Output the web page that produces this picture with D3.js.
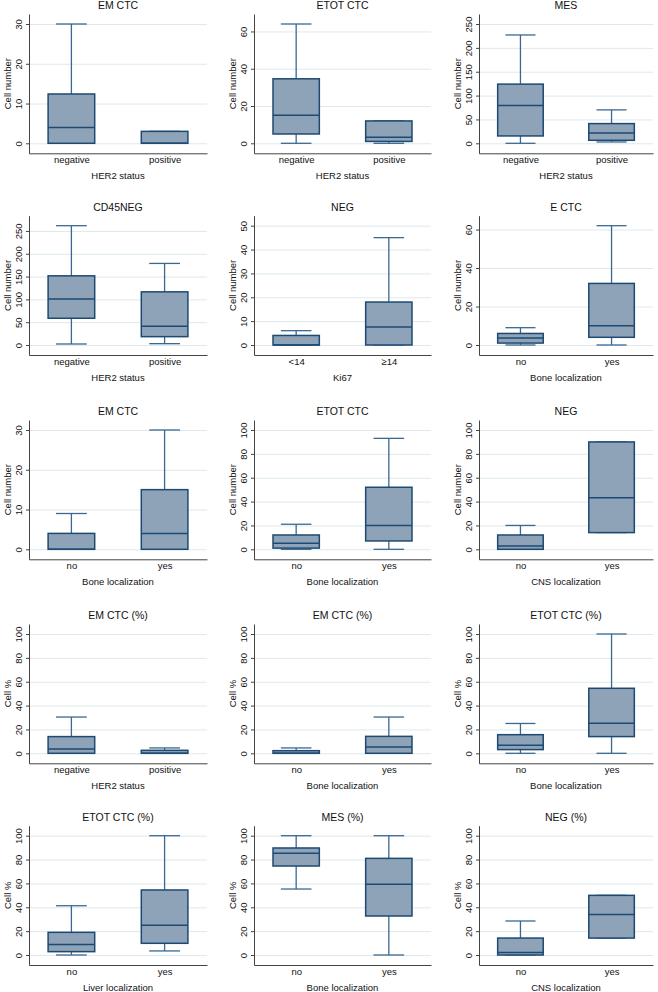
<!DOCTYPE html>
<html>
<head>
<meta charset="utf-8">
<script src="https://cdn.jsdelivr.net/npm/d3@7"></script>
<style>
  body { margin: 0; background: #fff; }
  svg { display: block; font-family: "Liberation Sans", Arial, sans-serif; }
</style>
</head>
<body>
<div id="chart"></div>
<script>
// panel titles, row by row
const titles = ["EM CTC", "ETOT CTC", "MES", "CD45NEG", "NEG", "E CTC", "EM CTC", "ETOT CTC", "NEG",
  "EM CTC (%)", "EM CTC (%)", "ETOT CTC (%)", "ETOT CTC (%)", "MES (%)", "NEG (%)"];
const groupTitles = ["HER2 status", "HER2 status", "HER2 status", "HER2 status", "Ki67", "Bone localization",
  "Bone localization", "Bone localization", "CNS localization", "HER2 status", "Bone localization",
  "Bone localization", "Liver localization", "Bone localization", "CNS localization"];
const her2 = ["negative", "positive"];
const ki67 = ["<14", "≥14"];
const noYes = ["no", "yes"];
const categories = [her2, her2, her2, her2, ki67, noYes, noYes, noYes, noYes, her2, noYes, noYes, noYes, noYes, noYes];
const yTitles = ["Cell number", "Cell number", "Cell number", "Cell number", "Cell number", "Cell number",
  "Cell number", "Cell number", "Cell number", "Cell %", "Cell %", "Cell %", "Cell %", "Cell %", "Cell %"];
const t30 = [0, 10, 20, 30], t60 = [0, 20, 40, 60], t250 = [0, 50, 100, 150, 200, 250],
  t50 = [0, 10, 20, 30, 40, 50], t100 = [0, 20, 40, 60, 80, 100];
const yTicks = [t30, t60, t250, t250, t50, t60, t30, t100, t100, t100, t100, t100, t100, t100, t100];

// box plot statistics per panel: [first category, second category]
const whiskerLow = [[0, 0], [0, 0], [0, 2.8], [2.2, 2.9], [0, 0], [0, 0], [0, 0], [0, 0], [0, 14],
  [0, 0], [0, 0], [0, 0], [0, 3.4], [55.3, 0], [0, 14.2]];
const lowerQuartile = [[0, 0], [5, 1], [15.4, 6.3], [58.6, 18.3], [0, 0], [1, 4], [0, 0], [1, 7], [0, 14],
  [0, 0], [0, 0], [3.1, 14], [2.8, 9.8], [74.6, 32.7], [0, 14.2]];
const median = [[4, 0], [15, 3.2], [79, 21.7], [101, 41], [0, 7.5], [3.6, 10], [0, 4], [5, 20], [2.8, 43.2],
  [3.6, 0], [0, 5.3], [6.7, 25.1], [8.7, 24.9], [85.2, 59.2], [2.2, 34]];
const upperQuartile = [[12.4, 3], [34.6, 12], [124, 41.3], [151.6, 116.5], [4, 18], [6, 32], [4, 15], [12, 52], [12, 90],
  [14, 2.5], [2.2, 14.2], [15.6, 54.5], [19, 54.5], [89.7, 81], [14.2, 50]];
const whiskerHigh = [[30, 3], [64, 12], [227, 70], [261.5, 178.8], [6, 45], [9, 62], [9, 30], [21, 93], [20, 90],
  [30.4, 4.5], [4.5, 30.4], [25, 100], [41.3, 100], [100, 100], [28.5, 50]];

const width = 658, height = 992;
const rowZero = [143.3, 345, 549.3, 753.3, 955]; // pixel where value 0 sits, per row
const colLeft = [29, 254, 479], colRight = [207, 431, 653];
const dataH = 119.3, pad = 10;

const navy = "#1d4a72", whiskerCol = "#3b6890", fillCol = "#8ea3b8", gridCol = "#dde9ec";

const svg = d3.select("#chart").append("svg")
  .attr("width", width).attr("height", height);

titles.forEach((title, i) => {
  const row = Math.floor(i / 3), col = i % 3;
  const left = colLeft[col], right = colRight[col];
  const y0 = rowZero[row];
  const top = y0 - dataH - pad, bottom = y0 + pad;

  const hi = Math.max(d3.max(yTicks[i]), d3.max(whiskerHigh[i]));
  const k = dataH / hi;
  const y = d3.scaleLinear().domain([-pad / k, hi + pad / k]).range([bottom, top]);
  const x = d3.scalePoint().domain(categories[i]).range([left, right]).padding(0.455);
  const boxW = x.step() * 0.5, capW = x.step() * 0.33;

  const g = svg.append("g");

  // grid lines
  g.append("g")
    .attr("transform", `translate(${left},0)`)
    .call(d3.axisLeft(y).tickValues(yTicks[i]).tickSize(-(right - left)).tickFormat(""))
    .call(a => a.select(".domain").remove())
    .call(a => a.selectAll("line").attr("stroke", gridCol).attr("stroke-width", 1));

  // boxes
  const stats = categories[i].map((c, j) => ({
    cat: c, lo: whiskerLow[i][j], q1: lowerQuartile[i][j], med: median[i][j],
    q3: upperQuartile[i][j], hi: whiskerHigh[i][j]
  }));
  const box = g.selectAll(".box").data(stats).enter().append("g");

  box.append("line")
    .attr("x1", d => x(d.cat)).attr("x2", d => x(d.cat))
    .attr("y1", d => y(d.q3)).attr("y2", d => y(d.hi))
    .attr("stroke", whiskerCol).attr("stroke-width", 1.3);
  box.append("line")
    .attr("x1", d => x(d.cat)).attr("x2", d => x(d.cat))
    .attr("y1", d => y(d.q1)).attr("y2", d => y(d.lo))
    .attr("stroke", whiskerCol).attr("stroke-width", 1.3);
  box.append("line")
    .attr("x1", d => x(d.cat) - capW / 2).attr("x2", d => x(d.cat) + capW / 2)
    .attr("y1", d => y(d.hi)).attr("y2", d => y(d.hi))
    .attr("stroke", whiskerCol).attr("stroke-width", 1.3);
  box.append("line")
    .attr("x1", d => x(d.cat) - capW / 2).attr("x2", d => x(d.cat) + capW / 2)
    .attr("y1", d => y(d.lo)).attr("y2", d => y(d.lo))
    .attr("stroke", whiskerCol).attr("stroke-width", 1.3);

  box.append("rect")
    .attr("x", d => x(d.cat) - boxW / 2)
    .attr("y", d => y(d.q3))
    .attr("width", boxW)
    .attr("height", d => y(d.q1) - y(d.q3))
    .attr("fill", fillCol)
    .attr("stroke", navy).attr("stroke-width", 1.5);
  box.append("line")
    .attr("x1", d => x(d.cat) - boxW / 2).attr("x2", d => x(d.cat) + boxW / 2)
    .attr("y1", d => y(d.med)).attr("y2", d => y(d.med))
    .attr("stroke", navy).attr("stroke-width", 1.5);

  // y axis
  g.append("g")
    .attr("transform", `translate(${left},0)`)
    .call(d3.axisLeft(y).tickValues(yTicks[i]).tickSize(3).tickSizeOuter(0).tickFormat(d3.format("d")))
    .call(a => a.select(".domain").attr("stroke", "#444"))
    .call(a => a.selectAll(".tick line").attr("stroke", "#444"))
    .call(a => a.selectAll(".tick text")
      .attr("x", 0).attr("y", -7).attr("dy", 0)
      .attr("transform", "rotate(-90)")
      .style("text-anchor", "middle")
      .attr("fill", "#111")
      .style("font-size", "9.5px")
      .style("font-family", "'Liberation Sans', Arial, sans-serif"));

  // x axis
  g.append("g")
    .attr("transform", `translate(0,${bottom})`)
    .call(d3.axisBottom(x).tickSize(0).tickPadding(0).tickSizeOuter(0))
    .call(a => a.select(".domain").attr("stroke", "#444"))
    .call(a => a.selectAll(".tick text")
      .attr("y", 10).attr("dy", 0)
      .attr("fill", "#111")
      .style("font-size", "9.5px")
      .style("font-family", "'Liberation Sans', Arial, sans-serif"));

  // titles
  g.append("text")
    .attr("x", (left + right) / 2).attr("y", top - 5)
    .attr("text-anchor", "middle")
    .style("font-size", "10.5px").attr("fill", "#111")
    .text(title);
  g.append("text")
    .attr("x", (left + right) / 2).attr("y", bottom + 26)
    .attr("text-anchor", "middle")
    .style("font-size", "9.5px").attr("fill", "#111")
    .text(groupTitles[i]);
  g.append("text")
    .attr("transform", `translate(${left - 18.5},${(top + bottom) / 2}) rotate(-90)`)
    .attr("text-anchor", "middle")
    .style("font-size", "9.5px").attr("fill", "#111")
    .text(yTitles[i]);
});
</script>
</body>
</html>
